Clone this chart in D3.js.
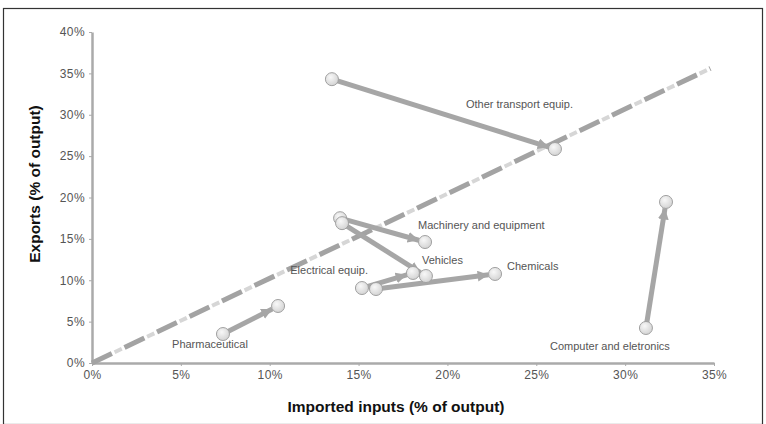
<!DOCTYPE html>
<html>
<head>
<meta charset="utf-8">
<script src="https://cdn.jsdelivr.net/npm/d3@7"></script>
<style>
  body { margin: 0; background: #fff; }
  svg { font-family: "Liberation Sans", Arial, sans-serif; }
  .axis path { stroke: #aaa; stroke-width: 2.5; }
  .axis line { stroke: #aaa; }
  .axis text { fill: #555; font-size: 12px; letter-spacing: 0.4px; }
  .lbl { fill: #555; font-size: 11px; }
  .title { fill: #111; font-size: 15.5px; font-weight: bold; }
</style>
</head>
<body>
<div class="chart"></div>
<script>
// sectors: imported inputs (x) and exports (y), % of output, start -> end
var sectors = ["Other transport equip.", "Machinery and equipment", "Vehicles",
  "Electrical equip.", "Chemicals", "Pharmaceutical", "Computer and eletronics"];
var importsStart = [13.5, 13.96, 14.07, 15.19, 15.98, 7.37, 31.17];
var exportsStart = [34.3, 17.5, 16.9, 9.06, 8.94, 3.5, 4.23];
var importsEnd = [26.05, 18.74, 18.79, 18.06, 22.68, 10.47, 32.3];
var exportsEnd = [25.86, 14.62, 10.51, 10.88, 10.76, 6.89, 19.46];

var xTicks = [0, 5, 10, 15, 20, 25, 30, 35];
var yTicks = [0, 5, 10, 15, 20, 25, 30, 35, 40];
var diagX = [0, 34.8];
var diagY = [0, 35.6];

// label placement in pixels, relative to the start or end point
var labelPos = [
  { at: "end", dx: -89, dy: -45, anchor: "start" },
  { at: "end", dx: -7, dy: -17, anchor: "start" },
  { at: "end", dx: -4, dy: -16, anchor: "start" },
  { at: "start", dx: 6, dy: -18, anchor: "end" },
  { at: "end", dx: 12, dy: -8, anchor: "start" },
  { at: "start", dx: -13, dy: 10, anchor: "middle" },
  { at: "start", dx: -36, dy: 18, anchor: "middle" }
];

var width = 766, height = 424, r = 6.5;

var svg = d3.select(".chart").append("svg")
  .attr("width", width).attr("height", height);

svg.append("rect")
  .attr("x", 3.5).attr("y", 8.5)
  .attr("width", 759).attr("height", 416)
  .attr("fill", "none").attr("stroke", "#333").attr("stroke-width", 1.2);

var x = d3.scaleLinear().domain([0, 35]).range([92, 714]);
var y = d3.scaleLinear().domain([0, 40]).range([363, 32]);

var defs = svg.append("defs");
var grad = defs.append("radialGradient").attr("id", "dot")
  .attr("cx", "40%").attr("cy", "35%").attr("r", "65%");
grad.append("stop").attr("offset", "0%").attr("stop-color", "#f8f8f8");
grad.append("stop").attr("offset", "100%").attr("stop-color", "#d4d4d4");

defs.append("marker").attr("id", "head")
  .attr("markerUnits", "userSpaceOnUse")
  .attr("viewBox", "0 0 10 10")
  .attr("refX", 10).attr("refY", 5)
  .attr("markerWidth", 11).attr("markerHeight", 11)
  .attr("orient", "auto")
  .append("path").attr("d", "M0,0L10,5L0,10z").attr("fill", "#a6a6a6");

// axes
svg.append("g").attr("class", "axis")
  .attr("transform", "translate(0," + y(0) + ")")
  .call(d3.axisBottom(x).tickValues(xTicks).tickSize(3).tickSizeOuter(0)
    .tickPadding(4).tickFormat(function(d) { return d + "%"; }));

svg.append("g").attr("class", "axis")
  .attr("transform", "translate(" + x(0) + ",0)")
  .call(d3.axisLeft(y).tickValues(yTicks).tickSize(3).tickSizeOuter(0)
    .tickPadding(4).tickFormat(function(d) { return d + "%"; }));

// 45 degree reference line
var diag = d3.line()
  .x(function(d, i) { return x(diagX[i]); })
  .y(function(d, i) { return y(diagY[i]); });

svg.append("path").datum(diagX).attr("d", diag)
  .attr("fill", "none").attr("stroke", "#d6d6d6").attr("stroke-width", 4)
  .attr("stroke-dasharray", "0,25,8,3");
svg.append("path").datum(diagX).attr("d", diag)
  .attr("fill", "none").attr("stroke", "#a3a3a3").attr("stroke-width", 5)
  .attr("stroke-dasharray", "22,14");

// arrows
var idx = d3.range(sectors.length);
svg.selectAll(".arrow").data(idx).enter().append("line")
  .attr("class", "arrow")
  .each(function(i) {
    var x1 = x(importsStart[i]), y1 = y(exportsStart[i]);
    var x2 = x(importsEnd[i]), y2 = y(exportsEnd[i]);
    var len = Math.hypot(x2 - x1, y2 - y1);
    var k = (len - r) / len;
    d3.select(this)
      .attr("x1", x1).attr("y1", y1)
      .attr("x2", x1 + (x2 - x1) * k).attr("y2", y1 + (y2 - y1) * k);
  })
  .attr("stroke", "#a6a6a6").attr("stroke-width", 5)
  .attr("marker-end", "url(#head)");

// points
var pts = idx.map(function(i) { return [importsStart[i], exportsStart[i]]; })
  .concat(idx.map(function(i) { return [importsEnd[i], exportsEnd[i]]; }));
svg.selectAll(".dot").data(pts).enter().append("circle")
  .attr("class", "dot")
  .attr("cx", function(d) { return x(d[0]); })
  .attr("cy", function(d) { return y(d[1]); })
  .attr("r", r)
  .attr("fill", "url(#dot)").attr("stroke", "#a0a0a0").attr("stroke-width", 1);

// labels
svg.selectAll(".lbl").data(idx).enter().append("text")
  .attr("class", "lbl")
  .attr("x", function(i) {
    var p = labelPos[i];
    return (p.at == "end" ? x(importsEnd[i]) : x(importsStart[i])) + p.dx;
  })
  .attr("y", function(i) {
    var p = labelPos[i];
    return (p.at == "end" ? y(exportsEnd[i]) : y(exportsStart[i])) + p.dy;
  })
  .attr("dy", "0.35em")
  .attr("text-anchor", function(i) { return labelPos[i].anchor; })
  .text(function(i) { return sectors[i]; });

// titles
svg.append("text").attr("class", "title")
  .attr("x", 396).attr("y", 407).attr("dy", "0.35em")
  .attr("text-anchor", "middle")
  .text("Imported inputs (% of output)");

svg.append("text").attr("class", "title")
  .attr("transform", "translate(35,184) rotate(-90)")
  .attr("dy", "0.35em")
  .attr("text-anchor", "middle")
  .text("Exports (% of output)");
</script>
</body>
</html>
